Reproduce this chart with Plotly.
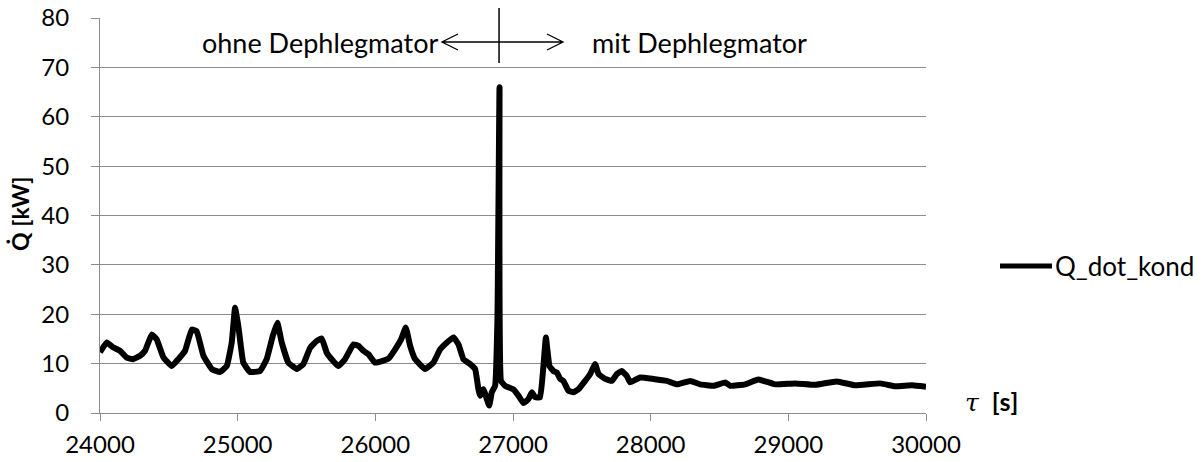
import plotly.graph_objects as go

# time [s] and condenser heat flow [kW]
time_s = [24000, 24049, 24094, 24145, 24194, 24240, 24291, 24327, 24376, 24412,
          24460, 24521, 24569, 24618, 24666, 24702, 24751, 24812, 24872, 24921,
          24957, 24981, 25005, 25041, 25090, 25163, 25211, 25255, 25288, 25320,
          25368, 25429, 25477, 25526, 25575, 25611, 25647, 25695, 25732, 25780,
          25841, 25877, 25913, 25950, 25998, 26047, 26095, 26144, 26187, 26221,
          26253, 26289, 26362, 26422, 26471, 26520, 26568, 26604, 26640, 26689,
          26725, 26749, 26761, 26785, 26827, 26846, 26870, 26887, 26902, 26913,
          26943, 26967, 27003, 27040, 27076, 27112, 27137, 27161, 27197, 27221,
          27239, 27265, 27294, 27318, 27343, 27366, 27403, 27439, 27475, 27524,
          27561, 27597, 27621, 27670, 27718, 27755, 27790, 27827, 27851, 27924,
          28020, 28118, 28191, 28287, 28360, 28457, 28542, 28578, 28687, 28782,
          28905, 29050, 29196, 29353, 29487, 29668, 29777, 29899, 30000]
q_dot_kond = [12.3, 14.3, 13.3, 12.6, 11.2, 10.9, 11.6, 12.6, 15.9, 14.9,
              11.3, 9.5, 10.9, 12.6, 16.9, 16.6, 11.6, 8.9, 8.3, 9.5,
              14.3, 21.3, 17.6, 10.2, 8.3, 8.5, 10.9, 15.6, 18.3, 14.3,
              10.2, 8.9, 9.9, 13.2, 14.6, 15.1, 12.2, 10.5, 9.5, 10.9,
              13.9, 13.6, 12.6, 11.9, 10.2, 10.5, 11.0, 12.9, 14.9, 17.3,
              13.6, 10.9, 8.9, 10.2, 12.9, 14.3, 15.3, 13.9, 10.9, 9.9,
              8.9, 4.8, 3.5, 4.8, 1.5, 4.2, 5.5, 19.0, 66.0, 6.5,
              5.5, 5.2, 4.8, 3.5, 2.0, 2.8, 4.2, 3.2, 3.2, 9.5,
              15.3, 9.5, 8.5, 8.2, 6.9, 6.5, 4.5, 4.2, 4.8, 6.5,
              7.9, 9.9, 7.9, 6.9, 6.5, 7.9, 8.5, 7.5, 6.2, 7.2,
              6.9, 6.5, 5.8, 6.5, 5.8, 5.5, 6.2, 5.5, 5.8, 6.8,
              5.8, 6.0, 5.7, 6.4, 5.6, 6.0, 5.4, 5.6, 5.3]

x_ticks = [24000, 25000, 26000, 27000, 28000, 29000, 30000]
y_ticks = [0, 10, 20, 30, 40, 50, 60, 70, 80]

FONT = "Lato, 'Open Sans', sans-serif"
GRID = "#8c8c8c"

fig = go.Figure()
fig.add_trace(go.Scatter(x=time_s, y=q_dot_kond, mode="lines", name="Q_dot_kond",
                         line=dict(color="black", width=6, shape="spline", smoothing=0.3),
                         showlegend=False))

fig.update_layout(
    width=1203, height=462,
    margin=dict(l=100, r=277, t=18, b=49),
    paper_bgcolor="white", plot_bgcolor="white",
    font=dict(family=FONT, size=24, color="black"),
    xaxis=dict(range=[24000, 30000], tickvals=x_ticks, ticktext=[str(v) for v in x_ticks],
               showgrid=False, zeroline=False, showline=True, linecolor=GRID, linewidth=1,
               ticks="outside", ticklen=7, tickcolor=GRID, tickwidth=1, automargin=False,
               tickfont=dict(size=24), ticklabelstandoff=3),
    yaxis=dict(range=[0, 80], tickvals=y_ticks, showgrid=True, gridcolor=GRID, gridwidth=1,
               zeroline=False, showline=True, linecolor=GRID, linewidth=1, automargin=False,
               ticks="outside", ticklen=8, tickcolor=GRID, tickwidth=1,
               tickfont=dict(size=24), ticklabelstandoff=17),
)

# axis titles
fig.add_annotation(xref="paper", yref="paper", x=-0.097, y=0.506, text="<b>Q̇ [kW]</b>",
                   textangle=-90, showarrow=False, xanchor="center", yanchor="middle",
                   font=dict(size=23))
fig.add_annotation(xref="paper", yref="paper", x=1.045, y=0.028,
                   text="<span style='font-family:DejaVu Serif'><i>τ</i></span>\u00a0\u00a0<b>[s]</b>",
                   showarrow=False, xanchor="left", yanchor="middle", font=dict(size=25))

# region annotation
fig.add_annotation(xref="paper", yref="paper", x=0.4116, y=0.9392, text="ohne Dephlegmator",
                   showarrow=False, xanchor="right", yanchor="middle", font=dict(size=27))
fig.add_annotation(xref="paper", yref="paper", x=0.593, y=0.9392, text="mit Dephlegmator",
                   showarrow=False, xanchor="left", yanchor="middle", font=dict(size=27))

# vertical separator
fig.add_shape(type="line", xref="paper", yref="paper", x0=0.4831, x1=0.4831, y0=0.886, y1=1.0253,
              line=dict(color="black", width=1.5))
# left arrow
fig.add_shape(type="path", xref="paper", yref="paper",
              path="M0.4831,0.9392 L0.4140,0.9392 M0.4334,0.9595 L0.4140,0.9392 L0.4334,0.919",
              line=dict(color="black", width=1.3))
# right arrow
fig.add_shape(type="path", xref="paper", yref="paper",
              path="M0.4831,0.9392 L0.5605,0.9392 M0.5412,0.9595 L0.5605,0.9392 L0.5412,0.919",
              line=dict(color="black", width=1.3))

# legend (custom)
fig.add_shape(type="line", xref="paper", yref="paper", x0=1.0896, x1=1.1525, y0=0.3722, y1=0.3722,
              line=dict(color="black", width=5))
fig.add_annotation(xref="paper", yref="paper", x=1.154, y=0.3722, text="Q_dot_kond",
                   showarrow=False, xanchor="left", yanchor="middle", font=dict(size=26))

fig.write_html("out.html")
